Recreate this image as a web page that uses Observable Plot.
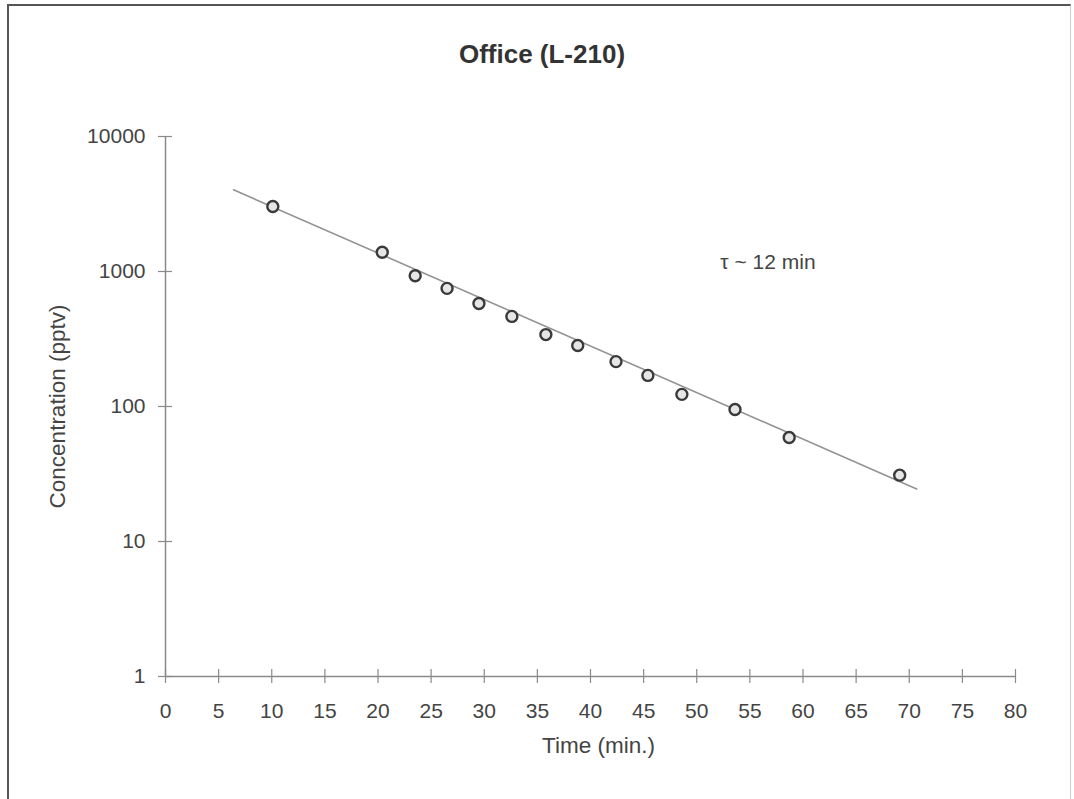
<!DOCTYPE html>
<html>
<head>
<meta charset="utf-8">
<script src="https://cdn.jsdelivr.net/npm/d3@7"></script>
<script src="https://cdn.jsdelivr.net/npm/@observablehq/plot@0.6"></script>
<style>
  html, body { margin: 0; padding: 0; background: #fff; }
  #wrap { position: relative; width: 1074px; height: 799px; overflow: hidden; font-family: "Liberation Sans", Arial, sans-serif; }
  #border { position: absolute; left: 7px; top: 4px; width: 1064px; height: 820px;
            border-left: 2px solid #555; border-top: 2px solid #555; border-right: 1px solid #ccc; box-sizing: border-box; }
  #title { position: absolute; left: 0; width: 1084px; top: 39px; text-align: center;
           font-weight: bold; font-size: 26px; color: #333; }
  #chart { position: absolute; left: 0; top: 0; }
</style>
</head>
<body>
<div id="wrap">
  <div id="border"></div>
  <div id="title">Office (L-210)</div>
  <div id="chart"></div>
</div>
<script>
// Measured concentrations during the decay in the office
const times = [10.1, 20.4, 23.5, 26.5, 29.5, 32.6, 35.8, 38.8, 42.4, 45.4, 48.6, 53.6, 58.7, 69.1];
const concentrations = [3030, 1390, 930, 750, 580, 465, 341, 283, 215, 170, 123, 95, 59, 31];

// Exponential fit (straight line on the log axis), endpoints
const fitTimes = [6.4, 70.7];
const fitConcentrations = [4030, 24.5];

// Axis ticks and labels
const xTicks = [0, 5, 10, 15, 20, 25, 30, 35, 40, 45, 50, 55, 60, 65, 70, 75, 80];
const yTicks = [1, 10, 100, 1000, 10000];
const xLabel = "Time (min.)";
const yLabel = "Concentration (pptv)";

// Annotation of the fitted time constant
const tauText = "τ ~ 12 min";
const tauTime = 56.7;
const tauConc = 1180;

const points = times.map((t, i) => ({t, c: concentrations[i]}));
const fit = fitTimes.map((t, i) => ({t, c: fitConcentrations[i]}));

const axisColor = "#8a8a8a";
const textColor = "#444";

const chart = Plot.plot({
  width: 1074,
  height: 799,
  marginLeft: 165,
  marginRight: 59,
  marginTop: 136,
  marginBottom: 123,
  style: {fontFamily: "'Liberation Sans', Arial, sans-serif", background: "transparent"},
  x: {domain: [0, 80], axis: null},
  y: {type: "log", domain: [1, 10000], axis: null},
  marks: [
    // axis lines
    Plot.ruleX([0], {stroke: axisColor, strokeWidth: 1.5}),
    Plot.ruleY([1], {stroke: axisColor, strokeWidth: 1.5}),
    // crossing tick marks
    Plot.axisX({ticks: xTicks, anchor: "bottom", tickSize: 14, dy: -7, tickFormat: () => "", stroke: axisColor, strokeWidth: 1.2, label: null}),
    Plot.axisY({ticks: yTicks, anchor: "left", tickSize: 14, dx: 7, tickFormat: () => "", stroke: axisColor, strokeWidth: 1.2, label: null}),
    // tick labels
    Plot.axisX({ticks: xTicks, anchor: "bottom", tickSize: 0, tickPadding: 27, fontSize: 21, fill: textColor, label: null, tickFormat: d => String(d)}),
    Plot.axisY({ticks: yTicks, anchor: "left", tickSize: 0, tickPadding: 20, fontSize: 21, fill: textColor, label: null, tickFormat: d => String(d)}),
    // axis titles
    Plot.text([xLabel], {frameAnchor: "bottom", dx: 8, dy: 76, fontSize: 22.5, fill: textColor, text: d => d}),
    Plot.text([yLabel], {frameAnchor: "left", dx: -108, rotate: -90, textAnchor: "middle", fontSize: 22.5, fill: textColor, text: d => d}),
    // fitted line
    Plot.line(fit, {x: "t", y: "c", stroke: "#939393", strokeWidth: 1.6}),
    // measurements
    Plot.dot(points, {x: "t", y: "c", r: 5.5, fill: "#e6e6e6", stroke: "#3a3a3a", strokeWidth: 2.4}),
    // time constant annotation
    Plot.text([tauText], {x: () => tauTime, y: () => tauConc, fontSize: 21, fill: textColor, text: d => d})
  ]
});
document.getElementById("chart").appendChild(chart);
</script>
</body>
</html>
